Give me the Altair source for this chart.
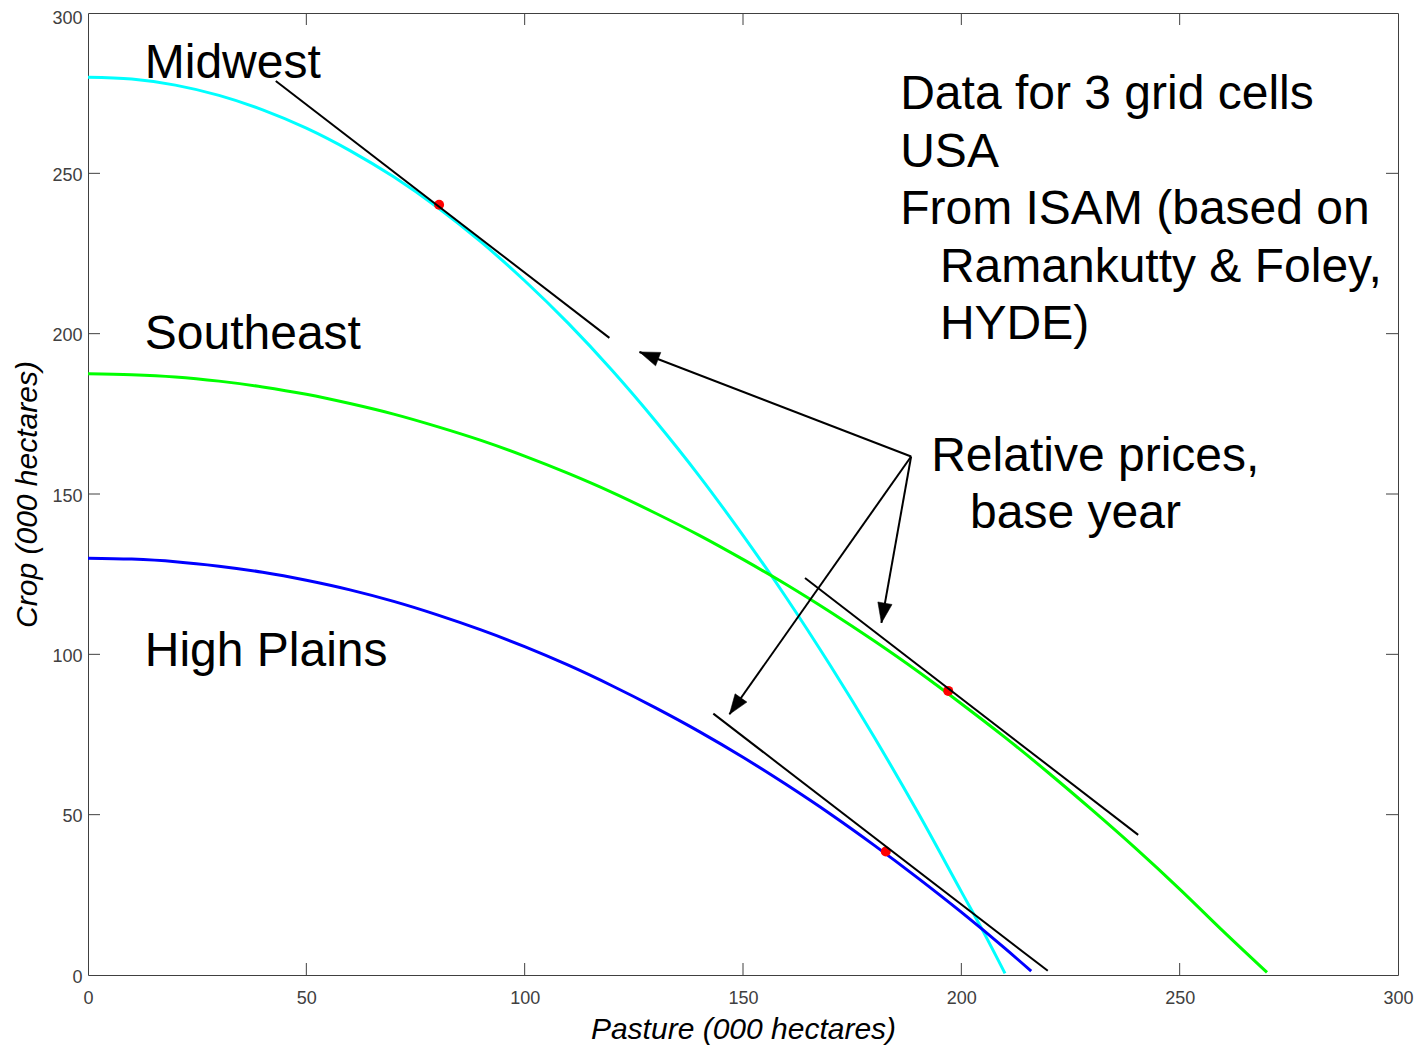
import math
import altair as alt
import pandas as pd

# ---------------- data ----------------
x_ticks = [0, 50, 100, 150, 200, 250, 300]
y_ticks = [0, 50, 100, 150, 200, 250, 300]

# Midwest (cyan)
mw_pasture = [0, 10, 20, 30, 40, 50, 60, 70, 80, 90, 100, 110, 120, 130, 140, 150, 160, 170, 180, 190, 200, 205, 210]
mw_crop = [280, 279.4, 277.5, 274.3, 269.8, 264.1, 257.1, 248.9, 239.4, 228.6, 216.5, 203.2, 188.6, 172.7,
           155.6, 137.1, 117.5, 96.5, 74.3, 50.8, 26.0, 13.6, 0.5]
# Southeast (green)
se_pasture = [0, 10, 20, 30, 40, 50, 60, 70, 80, 90, 100, 110, 120, 130, 140, 150, 160, 170, 180, 190, 200,
              210, 220, 230, 240, 250, 260, 270]
se_crop = [187.5, 187.2, 186.5, 185.2, 183.4, 181.1, 178.2, 174.9, 171.0, 166.7, 161.8, 156.4, 150.5, 144.0,
           137.1, 129.6, 121.7, 113.2, 104.2, 94.7, 84.6, 74.1, 63.0, 51.4, 39.4, 26.8, 13.6, 0.8]
# High Plains (blue)
hp_pasture = [0, 10, 20, 30, 40, 50, 60, 70, 80, 90, 100, 110, 120, 130, 140, 150, 160, 170, 180, 190, 200, 210, 216]
hp_crop = [130, 129.7, 128.9, 127.5, 125.6, 123.1, 120.1, 116.5, 112.3, 107.6, 102.4, 96.6, 90.2, 83.3,
           75.9, 67.9, 59.3, 50.2, 40.5, 30.3, 19.6, 8.3, 1.2]

series_names = ["Midwest", "Southeast", "High Plains"]
series_colors = ["#00FFFF", "#00FF00", "#0000FF"]

# base-year points (red dots)
dot_pasture = [80.4, 197.0, 182.7]
dot_crop = [240.2, 88.6, 38.5]

# relative-price tangent lines
tan_x0 = [43.0, 164.2, 143.2]
tan_y0 = [278.8, 123.8, 81.5]
tan_x1 = [119.4, 240.5, 219.8]
tan_y1 = [198.7, 43.7, 1.3]

# arrows from the "Relative prices" label
arrow_x0 = [188.5, 188.5, 188.5]
arrow_y0 = [161.7, 161.7, 161.7]
arrow_x1 = [126.3, 181.7, 146.9]
arrow_y1 = [194.3, 109.8, 81.3]

# annotations
ann_text = ["Midwest", "Southeast", "High Plains",
            "Data for 3 grid cells", "USA", "From ISAM (based on", "Ramankutty & Foley,", "HYDE)",
            "Relative prices,", "base year"]
ann_x = [13.0, 13.0, 13.0, 186.0, 186.0, 186.0, 195.1, 195.1, 193.1, 202.0]
ann_y = [279.8, 195.2, 96.4, 270.2, 252.1, 234.1, 216.1, 198.3, 157.3, 139.3]

# ---------------- chart ----------------
W, H = 1310, 962
AX = "#404040"
FONT = "Liberation Sans"

curves = pd.concat([
    pd.DataFrame({"x": mw_pasture, "y": mw_crop, "s": "Midwest"}),
    pd.DataFrame({"x": se_pasture, "y": se_crop, "s": "Southeast"}),
    pd.DataFrame({"x": hp_pasture, "y": hp_crop, "s": "High Plains"}),
])
dots = pd.DataFrame({"x": dot_pasture, "y": dot_crop})
tans = pd.DataFrame({"x": tan_x0, "y": tan_y0, "x2": tan_x1, "y2": tan_y1})
arrows = pd.DataFrame({"x": arrow_x0, "y": arrow_y0, "x2": arrow_x1, "y2": arrow_y1})
arrows["angle"] = [
    (math.degrees(math.atan2((x1 - x0) * W / 300.0, (y1 - y0) * H / 300.0)) + 360) % 360
    for x0, y0, x1, y1 in zip(arrow_x0, arrow_y0, arrow_x1, arrow_y1)
]
ann = pd.DataFrame({"x": ann_x, "y": ann_y, "t": ann_text})
xt = pd.DataFrame({"x": x_ticks[1:-1]})
yt = pd.DataFrame({"y": y_ticks[1:-1]})

xs = alt.Scale(domain=[0, 300], nice=False, zero=False)
ys = alt.Scale(domain=[0, 300], nice=False, zero=False)

x_axis = alt.Axis(values=x_ticks, title="Pasture (000 hectares)", grid=False, domain=False, ticks=False,
                  tickSize=0, labelPadding=14, labelFontSize=18, labelColor=AX, labelFont=FONT,
                  labelFlush=False, labelOverlap=False, titleFont=FONT, titleFontStyle="italic",
                  titleFontWeight="normal", titleFontSize=30, titleColor="black", titlePadding=7)
y_axis = alt.Axis(values=y_ticks, title="Crop (000 hectares)", grid=False, domain=False, ticks=False,
                  tickSize=0, labelPadding=6,
                  labelOffset={"condition": {"test": "datum.value >= 300", "value": 5}, "value": 2},
                  labelFontSize=18, labelColor=AX,
                  labelFont=FONT, labelFlush=False, labelOverlap=False, titleFont=FONT,
                  titleFontStyle="italic", titleFontWeight="normal", titleFontSize=30,
                  titleColor="black", titlePadding=9)

X = lambda f="x:Q": alt.X(f, scale=xs, axis=x_axis)
Y = lambda f="y:Q": alt.Y(f, scale=ys, axis=y_axis)

lines = alt.Chart(curves).mark_line(strokeWidth=3, interpolate="monotone").encode(
    x=X(), y=Y(),
    color=alt.Color("s:N", scale=alt.Scale(domain=series_names, range=series_colors), legend=None),
    order="x:Q",
)

red = alt.Chart(dots).mark_circle(color="#FF0000", size=100, opacity=1).encode(x=X(), y=Y())

tan_rules = alt.Chart(tans).mark_rule(color="black", strokeWidth=2).encode(
    x=X(), y=Y(), x2="x2:Q", y2="y2:Q"
)

arrow_rules = alt.Chart(arrows).mark_rule(color="black", strokeWidth=2).encode(
    x=X(), y=Y(), x2="x2:Q", y2="y2:Q"
)

heads = alt.Chart(arrows).mark_point(
    shape="M0,0 L-0.36,1 L0.36,1 Z", filled=True, fill="black", stroke="black", strokeWidth=0.5,
    size=1600, opacity=1
).encode(
    x=X("x2:Q"), y=Y("y2:Q"),
    angle=alt.Angle("angle:Q", scale=None),
)

texts = alt.Chart(ann).mark_text(align="left", baseline="alphabetic", fontSize=48, font=FONT,
                                 color="black").encode(x=X(), y=Y(), text="t:N")

tick_style = dict(color=AX, strokeWidth=1)
tb = alt.Chart(xt).mark_rule(**tick_style).encode(x=X(), y=alt.value(H), y2=alt.value(H - 12))
tt = alt.Chart(xt).mark_rule(**tick_style).encode(x=X(), y=alt.value(0), y2=alt.value(12))
tl = alt.Chart(yt).mark_rule(**tick_style).encode(y=Y(), x=alt.value(0), x2=alt.value(12))
tr = alt.Chart(yt).mark_rule(**tick_style).encode(y=Y(), x=alt.value(W), x2=alt.value(W - 12))

chart = alt.layer(lines, red, tan_rules, arrow_rules, heads, texts, tb, tt, tl, tr).properties(
    width=W, height=H,
    autosize=alt.AutoSizeParams(type="none"),
    padding={"left": 80, "top": 5, "right": 16, "bottom": 70},
    background="white",
).configure_view(stroke=AX, strokeWidth=1)

chart.save("out.html", embed_options={"renderer": "svg", "actions": False})
